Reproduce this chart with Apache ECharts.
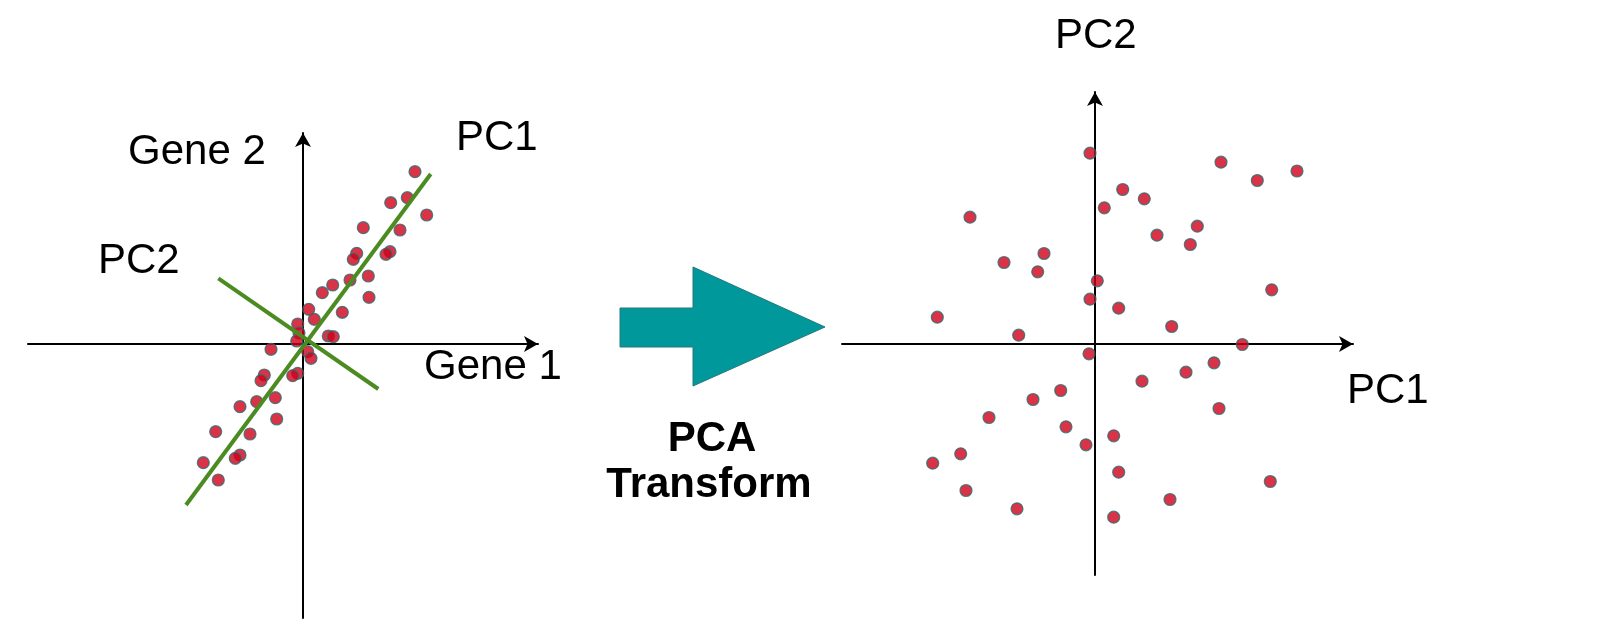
<!DOCTYPE html>
<html>
<head>
<meta charset="utf-8">
<title>PCA transform</title>
<script src="https://cdn.jsdelivr.net/npm/echarts@6/dist/echarts.min.js"></script>
<style>
  html, body {margin: 0; padding: 0; background: #fff;}
  #chart {width: 1601px; height: 635px;}
</style>
</head>
<body>
<div id="chart"></div>
<script>
// left panel: samples in gene space (Gene 1, Gene 2)
const geneX = [11.2, 10.43, 8.77, 12.37, 6.03, 9.7, 5.37, 5.03, 8.7, 8.3,
  6.53, 4.7, 2.97, 1.93, 6.6, 3.93, 0.57, 1.13, -0.53, 2.53,
  3.03, -0.4, -0.63, -3.2, 0.47, 0.8, -0.53, -1.03, -3.87, -4.2,
  -2.77, -4.63, -6.3, -2.63, -8.73, -5.3, -6.3, -6.77, -9.97, -8.47];
const geneY = [17.23, 14.63, 14.13, 12.9, 11.63, 11.4, 9.07, 8.47, 9.23, 8.97,
  6.8, 6.4, 5.9, 5.13, 4.67, 3.17, 3.47, 2.47, 2.0, 0.8,
  0.73, 1.1, 0.3, -0.53, -0.77, -1.43, -2.93, -3.17, -3.1, -3.67,
  -5.37, -5.77, -6.27, -7.5, -8.77, -9.0, -11.1, -11.43, -11.87, -13.6];

// principal directions drawn over the gene space
const pc1LineX = [-11.7, 12.77];
const pc1LineY = [-16.1, 17.0];
const pc2LineX = [-8.47, 7.53];
const pc2LineY = [6.57, -4.5];

// right panel: the cloud after the transform (PC1, PC2)
const pcX = [-0.5, 12.6, 20.2, 16.23, 2.77, 4.93, 0.93, -12.5, 10.23, 6.2, 9.53,
  -5.1, -9.1, -5.73, 0.23, 17.67, -0.5, 2.37, -15.77, 7.67, -7.63,
  14.73, -0.6, 11.9, 9.1, 4.7, -3.43, -6.2, 12.4, -10.6, -2.9,
  1.87, -0.9, -13.43, -16.23, 2.37, 17.53, -12.9, 7.5, -7.8, 1.87];
const pcY = [19.08, 18.18, 17.3, 16.35, 15.45, 14.52, 13.62, 12.68, 11.78, 10.88, 9.95,
  9.05, 8.15, 7.22, 6.32, 5.42, 4.48, 3.58, 2.68, 1.75, 0.88,
  -0.05, -0.98, -1.88, -2.82, -3.72, -4.65, -5.55, -6.45, -7.35, -8.28,
  -9.18, -10.08, -10.98, -11.92, -12.82, -13.75, -14.65, -15.55, -16.48, -17.32];

const zip = (xs, ys) => xs.map((x, i) => [x, ys[i]]);

const chart = echarts.init(document.getElementById('chart'));

const axisLine = {
  onZero: true,
  symbol: ['none', 'arrow'],
  symbolSize: [12, 14],
  lineStyle: {color: '#000', width: 2}
};
const bare = {
  axisLine: axisLine,
  axisTick: {show: false},
  axisLabel: {show: false},
  splitLine: {show: false}
};

const dotStyle = {color: '#cf0019', borderColor: '#2b6e73', borderWidth: 1.2};
const font = '42px "Liberation Sans", Arial, sans-serif';
const boldFont = 'bold 42px "Liberation Sans", Arial, sans-serif';

function label(text, x, y, f, align) {
  return {
    type: 'text', x: x, y: y,
    style: {text: text, font: f || font, fill: '#000', align: align || 'left', verticalAlign: 'middle'}
  };
}

const option = {
  animation: false,
  backgroundColor: '#fff',
  grid: [
    {left: 28, right: 1063, top: 133, bottom: 17},
    {left: 842, right: 248, top: 92, bottom: 60}
  ],
  xAxis: [
    Object.assign({type: 'value', gridIndex: 0, min: -27.5, max: 23.5}, bare),
    Object.assign({type: 'value', gridIndex: 1, min: -25.3, max: 25.8}, bare)
  ],
  yAxis: [
    Object.assign({type: 'value', gridIndex: 0, min: -27.4, max: 21.1}, bare),
    Object.assign({type: 'value', gridIndex: 1, min: -23.1, max: 25.2}, bare)
  ],
  series: [
    {
      type: 'scatter', xAxisIndex: 0, yAxisIndex: 0,
      data: zip(geneX, geneY), symbolSize: 12, itemStyle: dotStyle, z: 2
    },
    {
      type: 'line', xAxisIndex: 0, yAxisIndex: 0, data: zip(pc1LineX, pc1LineY),
      symbol: 'none', lineStyle: {color: '#4b8b21', width: 4}, z: 3
    },
    {
      type: 'line', xAxisIndex: 0, yAxisIndex: 0, data: zip(pc2LineX, pc2LineY),
      symbol: 'none', lineStyle: {color: '#4b8b21', width: 4}, z: 3
    },
    {
      type: 'scatter', xAxisIndex: 1, yAxisIndex: 1,
      data: zip(pcX, pcY), symbolSize: 12, itemStyle: dotStyle, z: 2
    }
  ],
  graphic: [
    label('Gene 2', 128, 152),
    label('PC2', 98, 261),
    label('PC1', 456, 138),
    label('Gene 1', 424, 367),
    label('PC2', 1055, 36),
    label('PC1', 1347, 391),
    // big teal arrow in the middle
    {
      type: 'polygon',
      shape: {points: [[620, 308], [693, 308], [693, 267], [825, 327], [693, 386], [693, 347], [620, 347]]},
      style: {fill: '#00989b', stroke: '#26797c', lineWidth: 1}
    },
    label('PCA', 712, 439, boldFont, 'center'),
    label('Transform', 709, 485, boldFont, 'center')
  ]
};

chart.setOption(option);
</script>
</body>
</html>
